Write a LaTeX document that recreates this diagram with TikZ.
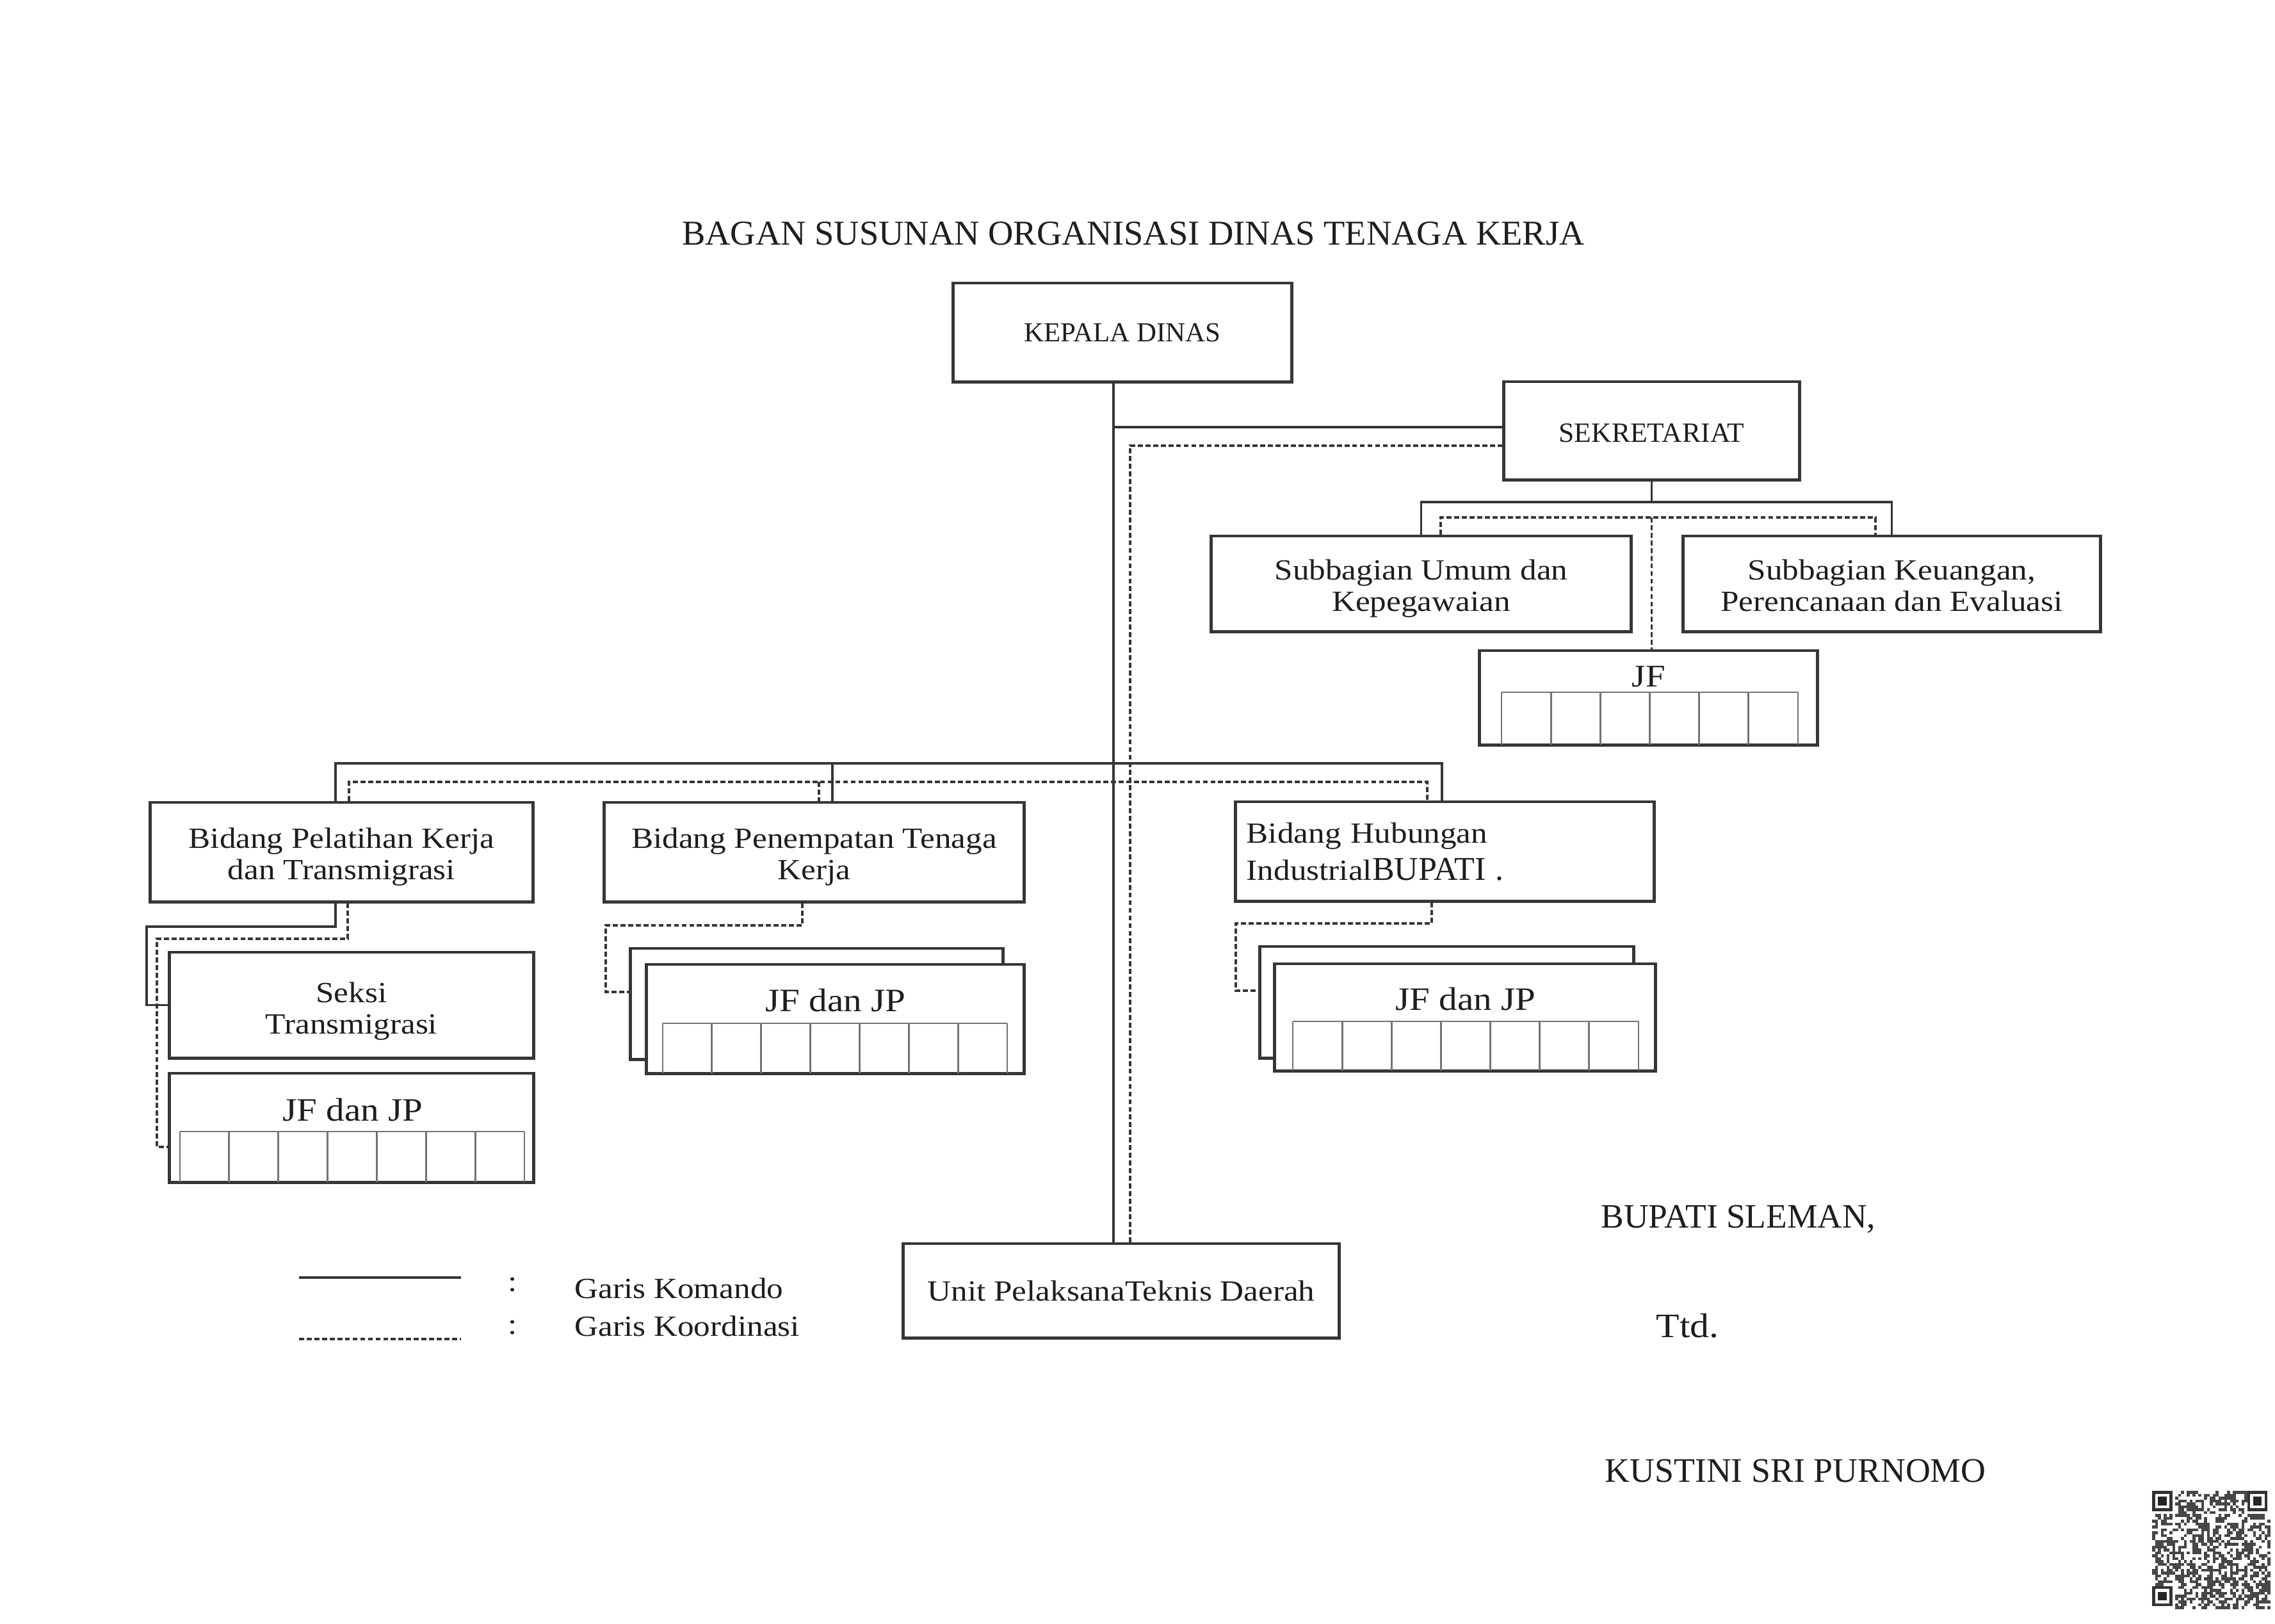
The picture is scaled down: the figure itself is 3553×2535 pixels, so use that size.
\documentclass[tikz,border=0pt]{standalone}
\usepackage{fontspec}
\setmainfont{Liberation Serif}
\newfontfamily\wf[FakeStretch=1.12]{Liberation Serif}
\usetikzlibrary{calc}
\definecolor{ink}{HTML}{1E1E1E}
\definecolor{edge}{HTML}{363636}
\tikzset{
  box/.style={draw=edge, line width=1.4pt, fill=white, inner sep=0pt, text=ink,
              align=center, font=\wf\fontsize{13}{14}\selectfont},
  twoline/.style={text height=24.3pt, text depth=0pt},
  cmd/.style={draw=edge, line width=1.1pt},
  crd/.style={draw=edge, line width=0.9pt, dash pattern=on 2.2pt off 1.2pt},
  gridln/.style={draw=black!55, line width=0.8pt},
  lbl/.style={text=ink, inner sep=0pt},
}
\newcommand\jfgrid[5]{%
  \draw[gridln] (#1,#2) -- (#3,#2);
  \foreach \k in {0,...,#5}{%
    \pgfmathsetmacro\xx{#1+(#3-#1)*\k/#5}
    \draw[gridln] (\xx,#2) -- (\xx,#4);
  }%
}
\begin{document}
\begin{tikzpicture}[x=0.01cm, y=-0.01cm]
\fill[white] (0,0) rectangle (3553,2535);
\useasboundingbox (0,0) rectangle (3553,2535);

% title
\node[lbl, font=\fontsize{15.5}{17}\selectfont] (title) at (1770,365) {BAGAN SUSUNAN ORGANISASI DINAS TENAGA KERJA};

% boxes
\node[box, minimum width=5.28cm, minimum height=1.54cm, font=\fontsize{12.2}{14}\selectfont] (kepala) at (1753,519) {KEPALA DINAS};
\node[box, minimum width=4.61cm, minimum height=1.53cm, font=\fontsize{12.4}{14}\selectfont,
      text height=10.4pt, text depth=0pt] (sekre) at (2579.5,672.5) {SEKRETARIAT};
\node[box, twoline, minimum width=6.55cm, minimum height=1.49cm] (umum) at (2219.5,911.5) {Subbagian Umum dan\\Kepegawaian};
\node[box, twoline, minimum width=6.51cm, minimum height=1.49cm] (keu) at (2954.5,911.5) {Subbagian Keuangan,\\Perencanaan dan Evaluasi};
\node[box, minimum width=5.27cm, minimum height=1.47cm] (jfs) at (2574.5,1089.5) {};
\node[lbl, font=\wf\fontsize{14}{15}\selectfont] (jfstxt) at (2575,1057) {JF};
\jfgrid{2345}{1081}{2808}{1163}{6}

\node[box, twoline, minimum width=5.97cm, minimum height=1.55cm] (pel) at (533.5,1330.5) {Bidang Pelatihan Kerja\\dan Transmigrasi};
\node[box, twoline, minimum width=6.55cm, minimum height=1.55cm] (pen) at (1271.5,1330.5) {Bidang Penempatan Tenaga\\Kerja};
\node[box, minimum width=6.53cm, minimum height=1.55cm, text width=6.19cm, align=left, inner xsep=0.17cm,
      font=\wf\fontsize{13}{16.5}\selectfont] (hub) at (2256.5,1329.5)
      {Bidang Hubungan\\Industrial{\rmfamily\fontsize{14.8}{16.5}\selectfont BUPATI .}};

\node[box, minimum width=5.68cm, minimum height=1.65cm, text height=25.5pt, text depth=0pt] (seksi) at (549,1569.5) {Seksi\\Transmigrasi};
\node[box, minimum width=5.68cm, minimum height=1.70cm] (jfl) at (549,1761) {};
\node[lbl, font=\wf\fontsize{14.5}{15}\selectfont] (jfltxt) at (551,1733) {JF dan JP};
\jfgrid{281}{1767}{819}{1846}{7}

\node[box, minimum width=5.81cm, minimum height=1.73cm] (penback) at (1275.5,1567.5) {};
\node[box, minimum width=5.89cm, minimum height=1.70cm] (penfront) at (1304.5,1591) {};
\node[lbl, font=\wf\fontsize{14.5}{15}\selectfont] (pentxt) at (1305,1562) {JF dan JP};
\jfgrid{1035}{1598}{1573}{1676}{7}

\node[box, minimum width=5.83cm, minimum height=1.74cm] (hubback) at (2259.5,1565) {};
\node[box, minimum width=5.94cm, minimum height=1.67cm] (hubfront) at (2288,1588.5) {};
\node[lbl, font=\wf\fontsize{14.5}{15}\selectfont] (hubtxt) at (2289,1560) {JF dan JP};
\jfgrid{2019}{1595}{2559}{1672}{7}

\node[box, minimum width=6.80cm, minimum height=1.47cm] (unit) at (1751,2015.5) {Unit PelaksanaTeknis Daerah};

% level coordinates
\coordinate (spS) at (1739,0);
\coordinate (spD) at (1765,0);
\coordinate (ySekS) at (0,667);
\coordinate (ySekD) at (0,696);
\coordinate (yBusS) at (0,784);
\coordinate (yBusD) at (0,808);
\coordinate (xUmD) at (2250,0);
\coordinate (xKeD) at (2929,0);
\coordinate (yBidS) at (0,1192);
\coordinate (yBidD) at (0,1221);
\coordinate (xPelS) at (524,0);
\coordinate (xPelD) at (545,0);
\coordinate (xPenS) at (1300,0);
\coordinate (xPenD) at (1279,0);
\coordinate (xHubS) at (2252,0);
\coordinate (xHubD) at (2229,0);

% main spine
\draw[cmd] (kepala.south -| spS) -- (unit.north -| spS);
\draw[cmd] (spS |- ySekS) -- (sekre.west |- ySekS);
\draw[crd] (unit.north -| spD) -- (spD |- ySekD) -- (sekre.west |- ySekD);

% sekretariat children
\draw[cmd] (sekre.south) -- (sekre.south |- yBusS);
\draw[cmd] (umum.north) -- (umum.north |- yBusS) -- (keu.north |- yBusS) -- (keu.north);
\draw[crd] (umum.north -| xUmD) -- (xUmD |- yBusD) -- (xKeD |- yBusD) -- (keu.north -| xKeD);
\draw[crd] (sekre.south |- yBusD) -- (sekre.south |- jfs.north);

% bidang bus
\draw[cmd] (pel.north -| xPelS) -- (xPelS |- yBidS) -- (xHubS |- yBidS) -- (hub.north -| xHubS);
\draw[cmd] (xPenS |- yBidS) -- (pen.north -| xPenS);
\draw[crd] (pel.north -| xPelD) -- (xPelD |- yBidD) -- (xHubD |- yBidD) -- (hub.north -| xHubD);
\draw[crd] (xPenD |- yBidD) -- (pen.north -| xPenD);

% pelatihan subtree
\coordinate (yP1) at (0,1447);
\coordinate (xL1) at (229,0);
\coordinate (xPd) at (543,0);
\coordinate (yP2) at (0,1466);
\coordinate (xL2) at (245,0);
\coordinate (yJ) at (0,1791);
\draw[cmd] (pel.south -| xPelS) -- (xPelS |- yP1) -- (xL1 |- yP1) -- (xL1 |- seksi.west) -- (seksi.west);
\draw[crd] (pel.south -| xPd) -- (xPd |- yP2) -- (xL2 |- yP2) -- (xL2 |- yJ) -- (jfl.west |- yJ);

% penempatan subtree
\coordinate (xN) at (1253,0);
\coordinate (yN1) at (0,1445);
\coordinate (xN2) at (946,0);
\coordinate (yN2) at (0,1549);
\draw[crd] (pen.south -| xN) -- (xN |- yN1) -- (xN2 |- yN1) -- (xN2 |- yN2) -- (penback.west |- yN2);

% hubungan subtree
\coordinate (xH) at (2236,0);
\coordinate (yH1) at (0,1442);
\coordinate (xH2) at (1930,0);
\coordinate (yH2) at (0,1547);
\draw[crd] (hub.south -| xH) -- (xH |- yH1) -- (xH2 |- yH1) -- (xH2 |- yH2) -- (hubback.west |- yH2);

% legend
\coordinate (lgA1) at (467,1995);
\coordinate (lgA2) at (720,1995);
\coordinate (lgB1) at (467,2091);
\coordinate (lgB2) at (720,2091);
\draw[cmd] (lgA1) -- (lgA2);
\draw[crd] (lgB1) -- (lgB2);
\node[lbl, font=\wf\fontsize{13}{14}\selectfont] (colA) at (801,2006) {:};
\node[lbl, font=\wf\fontsize{13}{14}\selectfont] (colB) at (801,2073) {:};
\node[lbl, anchor=west, font=\wf\fontsize{13}{14}\selectfont] (lgtA) at (897,2012) {Garis Komando};
\node[lbl, anchor=west, font=\wf\fontsize{13}{14}\selectfont] (lgtB) at (897,2071) {Garis Koordinasi};

% signature
\node[lbl, anchor=west, font=\fontsize{15.2}{17}\selectfont] (bupati) at (2500,1904) {BUPATI SLEMAN,};
\node[lbl, anchor=west, font=\wf\fontsize{15.2}{17}\selectfont] (ttd) at (2586,2070) {Ttd.};
\node[lbl, anchor=west, font=\fontsize{15.3}{17}\selectfont] (nama) at (2506,2297) {KUSTINI SRI PURNOMO};

% QR code
\pgfmathsetseed{11}
\foreach \i in {0,...,40}{
  \foreach \j in {0,...,40}{
    \pgfmathtruncatemacro\infd{((\i<8)&&(\j<8))||((\i>32)&&(\j<8))||((\i<8)&&(\j>32))}
    \ifnum\infd=0
      \pgfmathtruncatemacro\bit{rnd<0.5}
      \ifnum\bit=1
        \fill[black!72] ({3361+\i*4.5},{2328+\j*4.5}) rectangle ++(4.5,4.5);
      \fi
    \fi
  }
}
\foreach \ox/\oy in {3361/2328, 3509.5/2328, 3361/2476.5}{
  \fill[black!80] (\ox,\oy) rectangle ++(31.5,31.5);
  \fill[white] ({\ox+4.5},{\oy+4.5}) rectangle ++(22.5,22.5);
  \fill[black!85] ({\ox+9},{\oy+9}) rectangle ++(13.5,13.5);
}
\end{tikzpicture}
\end{document}
